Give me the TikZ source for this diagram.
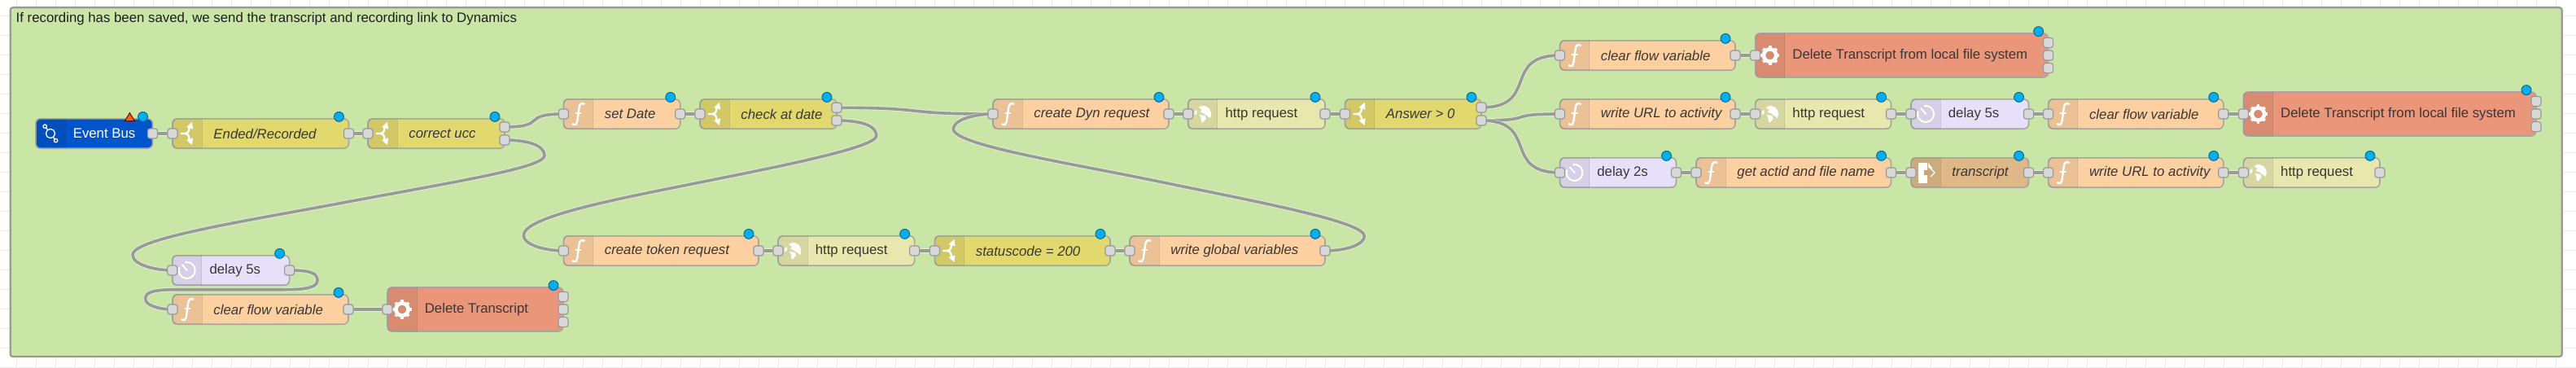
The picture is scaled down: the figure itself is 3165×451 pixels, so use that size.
\documentclass[tikz,border=0pt]{standalone}
\usepackage{fontspec}
\setmainfont{Liberation Sans}
\usetikzlibrary{calc}
\pgfdeclarelayer{wires}
\pgfsetlayers{wires,main}
\definecolor{groupgreen}{HTML}{C9E6A6}
\definecolor{fncol}{HTML}{FDD0A2}
\definecolor{swcol}{HTML}{E2D96E}
\definecolor{dlcol}{HTML}{E6E0F8}
\definecolor{htcol}{HTML}{E7E7AE}
\definecolor{excol}{HTML}{E9967A}
\definecolor{ficol}{HTML}{DEB887}
\definecolor{evcol}{HTML}{0055CC}
\definecolor{dotblue}{HTML}{00AEEF}
\tikzstyle{gridline}=[draw=black!7,line width=1pt]
\tikzstyle{groupbox}=[draw=black!40,fill=groupgreen,line width=2.2pt,rounded corners=3pt,inner sep=0pt]
\tikzstyle{nodebox}=[draw=black!35,line width=1.6pt,rounded corners=6pt,inner sep=0pt]
\tikzstyle{nodelabel}=[anchor=west,inner sep=0pt,text=black!78,font=\fontsize{16.8}{20}\selectfont]
\tikzstyle{port}=[draw=black!40,fill=black!15,line width=1.2pt,rounded corners=2.8pt,minimum size=12pt,inner sep=0pt]
\tikzstyle{marker}=[circle,draw=black!45!dotblue,fill=dotblue,line width=.8pt,minimum size=12pt,inner sep=0pt]
\tikzstyle{wire}=[draw=black!40,line width=3.6pt,preaction={draw=white,opacity=.45,line width=5.4pt}]
\tikzstyle{iconline}=[draw=white,line width=2.4pt,fill=none]
\tikzset{
  pics/fnicon/.style={code={
    \draw[iconline] (8,-12) .. controls (4,-14.5) and (1.5,-12) .. (1,-7) -- (-1,8) .. controls (-1.5,13) and (-4,14.5) .. (-7.5,12);
    \draw[iconline,line width=1.8pt] (-3.5,-1) -- (4,-1);
  }},
  pics/swicon/.style={code={
    \draw[iconline] (-8,0) -- (-3,0) .. controls (1,0) and (2.5,-3) .. (2.5,-8);
    \draw[iconline] (-3,0) .. controls (1,0) and (2.5,3) .. (2.5,8);
    \fill[white] (-1,-8) -- (6,-14) -- (7,-5.5) -- cycle;
    \fill[white] (-1,8) -- (6,14) -- (7,5.5) -- cycle;
  }},
  pics/dlicon/.style={code={
    \draw[iconline,line width=2pt] (-0.9,-10) arc[start angle=265,end angle=560,radius=10];
    \draw[iconline,line width=2pt] (0.5,0.5) -- (-6,-7);
    \fill[white] (-0.9,-10) circle (1.6);
  }},
  pics/hticon/.style={code={
    \fill[white] (-5,-8) .. controls (-1,-11) and (5,-11) .. (9,-5) .. controls (11,-1) and (10.5,3) .. (9,5) -- (5,2) -- (1,-1) -- (-3,-2) -- (-1,-5) -- cycle;
    \fill[white] (-4,1) -- (3,2) -- (4,6) -- (0,10.5) -- (-2,9) -- (-2,5) -- cycle;
    \fill[white] (-10,-3) -- (-7,-5) -- (-7,0) -- (-10,1) -- cycle;
  }},
  pics/exicon/.style={code={
    \draw[iconline,line width=4.6pt] (0,0) circle (7.6);
    \foreach \a in {0,45,...,315}
      \draw[iconline,line width=3.8pt] (\a:7.5) -- (\a:11.6);
  }},
  pics/fiicon/.style={code={
    \fill[white] (-9.3,-12) -- (2,-12) -- (2,13) -- (-9.3,13) -- cycle;
    \fill[white] (3.2,-12) -- (8.5,-5) -- (3.2,-5) -- cycle;
    \fill[ficol!90!black] (-2,-3) -- (3,-3) -- (3,-6.5) -- (9,0) -- (3,6.5) -- (3,3) -- (-2,3) -- cycle;
    \draw[iconline,line width=1.2pt] (6,-5) -- (11,0) -- (6,5);
  }},
  pics/evicon/.style={code={
    \draw[iconline,line width=1.3pt] (0,0) circle (5.6);
    \draw[iconline,line width=1.3pt] (-6.8,-8.8) circle (2.2);
    \draw[iconline,line width=1.3pt] (6.6,8.6) circle (2.2);
    \draw[iconline,line width=1.3pt] (-5.4,-7) -- (-3.4,-4.4);
    \draw[iconline,line width=1.3pt] (5.2,6.8) -- (3.4,4.4);
  }}
}
% box, icon band, text and blue marker of one flow node
\newcommand{\flownode}[8]{
  \node[nodebox,fill=#6,minimum width={(#3-#2)*1pt},minimum height={2*#5*1pt}] (#1) at ({(#2+#3)/2},#4) {};
  \fill[black,fill opacity=.07] (#2+36,#4-#5) -- (#2+6,#4-#5) .. controls (#2,#4-#5) .. (#2,#4-#5+6) -- (#2,#4+#5-6) .. controls (#2,#4+#5) .. (#2+6,#4+#5) -- (#2+36,#4+#5) -- cycle;
  \draw[black,opacity=.1,line width=1pt] (#2+36,#4-#5) -- (#2+36,#4+#5);
  \node[nodelabel] (#1-t) at (#2+45.6,#4) {#7 #8};
  \node[marker] (#1-m) at (#3-12,#4-#5-2.4) {};
}
\begin{document}
\begin{tikzpicture}[x=1pt,y=-1pt]
    \useasboundingbox (0,0) rectangle (3165,451);

    \begin{pgfonlayer}{wires}
    % Canvas grid and the group
    \foreach \k in {0,...,130}
        \draw[gridline] (20.4+24*\k,0) -- (20.4+24*\k,451);
    \foreach \k in {0,...,18}
        \draw[gridline] (0,19.3+24*\k) -- (3165,19.3+24*\k);
    \node[groupbox,minimum width=3135pt,minimum height=428.7pt] (group) at (1580.2,223.65) {};
    \end{pgfonlayer}
    \node[nodelabel,text=black!88] (grouptitle) at (19.5,22.7) {If recording has been saved, we send the transcript and recording link to Dynamics};

    % Function nodes
    \foreach \name/\xa/\xb/\yy/\txt in {setdate/692.4/835.7/140/{set Date},
        dynreq/1220/1436/140/{create Dyn request},
        tokenreq/692.4/932/308/{create token request},
        globals/1388/1628/308/{write global variables},
        cleara/212/428/380/{clear flow variable},
        clearb/1916.5/2132/68/{clear flow variable},
        writea/1916.5/2132/140/{write URL to activity},
        clearc/2516.6/2731.8/140/{clear flow variable},
        actid/2084/2323.5/212/{get actid and file name},
        writeb/2516.6/2731.8/212/{write URL to activity}}{
        \flownode{\name}{\xa}{\xb}{\yy}{18.2}{fncol}{\itshape}{\txt}
        \pic at (\xa+18,\yy) {fnicon};
        \node[port] (\name-i) at (\xa,\yy) {};
        \node[port] (\name-o) at (\xb,\yy) {};
    }

    % Switch nodes
    \foreach \name/\xa/\xb/\yy/\txt in {ended/212/428.5/164/{Ended/Recorded},
        ucc/452/620/164/{correct ucc},
        atdate/860/1028/140/{check at date},
        status/1148.4/1364/308/{statuscode = 200},
        answer/1652.5/1820/140/{Answer > 0}}{
        \flownode{\name}{\xa}{\xb}{\yy}{18.2}{swcol}{\itshape}{\txt}
        \pic at (\xa+18,\yy) {swicon};
        \node[port] (\name-i) at (\xa,\yy) {};
    }
    \foreach \name/\xx/\yy in {ended-o/428.5/164, status-o/1364/308,
        ucc-a/620/156, ucc-b/620/172, atdate-a/1028/132.3, atdate-b/1028/148,
        answer-a/1820/132, answer-b/1820/148}
        \node[port] (\name) at (\xx,\yy) {};

    % Delay nodes
    \foreach \name/\xa/\xb/\yy/\txt in {delaya/211.7/355.6/332/{delay 5s},
        delayb/2348/2492.5/140/{delay 5s},
        delayc/1916.5/2059.5/212/{delay 2s}}{
        \flownode{\name}{\xa}{\xb}{\yy}{18.2}{dlcol}{}{\txt}
        \pic at (\xa+18,\yy) {dlicon};
        \node[port] (\name-i) at (\xa,\yy) {};
        \node[port] (\name-o) at (\xb,\yy) {};
    }

    % Http request nodes
    \foreach \name/\xa/\xb/\yy in {httpa/956/1123.6/308, httpb/1459.7/1628/140,
        httpc/2156.6/2323.5/140, httpd/2756.4/2924/212}{
        \flownode{\name}{\xa}{\xb}{\yy}{18.2}{htcol}{}{http request}
        \pic at (\xa+18,\yy) {hticon};
        \node[port] (\name-i) at (\xa,\yy) {};
        \node[port] (\name-o) at (\xb,\yy) {};
    }

    % Exec nodes, three outputs each
    \foreach \name/\xa/\xb/\yy/\txt in {execa/476/692/380/{Delete Transcript},
        execb/2156.6/2516.6/68/{Delete Transcript from local file system},
        execc/2756.4/3116/140/{Delete Transcript from local file system}}{
        \flownode{\name}{\xa}{\xb}{\yy}{27}{excol}{}{\txt}
        \pic at (\xa+18,\yy) {exicon};
        \node[port] (\name-i) at (\xa,\yy) {};
        \node[port] (\name-a) at (\xb,\yy-15.6) {};
        \node[port] (\name-b) at (\xb,\yy) {};
        \node[port] (\name-c) at (\xb,\yy+15.6) {};
    }

    % File node and the event bus
    \flownode{transcript}{2348}{2492.5}{212}{18.2}{ficol}{\itshape}{transcript}
    \pic at (2366,212) {fiicon};
    \node[port] (transcript-i) at (2348,212) {};
    \node[port] (transcript-o) at (2492.5,212) {};

    \flownode{eventbus}{44}{187.5}{164}{18.2}{evcol}{\color{white}}{Event Bus}
    \pic at (62,164) {evicon};
    \node[port] (eventbus-o) at (187.5,164) {};
    \draw[draw=black!60!red,fill=orange!80!red,line width=1pt] (159.4,138.7) -- (165.5,148.7) -- (153.3,148.7) -- cycle;

    % Connect the nodes
    \begin{pgfonlayer}{wires}
    \foreach \source/\dest in {eventbus-o/ended-i, ended-o/ucc-i, setdate-o/atdate-i,
        cleara-o/execa-i, tokenreq-o/httpa-i, httpa-o/status-i, status-o/globals-i,
        dynreq-o/httpb-i, httpb-o/answer-i, clearb-o/execb-i, writea-o/httpc-i,
        httpc-o/delayb-i, delayb-o/clearc-i, clearc-o/execc-i, delayc-o/actid-i,
        actid-o/transcript-i, transcript-o/writeb-i, writeb-o/httpd-i}
        \path[wire] (\source) -- (\dest);

    \foreach \source/\dest/\pull in {ucc-a/setdate-i/54, atdate-a/dynreq-i/120,
        answer-a/clearb-i/72, answer-b/writea-i/72, answer-b/delayc-i/72}
        \path[wire] (\source.center) .. controls +(\pull,0) and +(-\pull,0) .. (\dest.center);

    % The wires that run back to the left
    \path[wire] (ucc-b.center) .. controls (650,172) and (669,179) .. (669,191) .. controls (669,206) and (560,223) .. (416,250) .. controls (300,271.8) and (163,293) .. (163,313) .. controls (163,325) and (190,332) .. (delaya-i.center);
    \path[wire] (delaya-o.center) .. controls (380,332) and (390,335) .. (390,344) .. controls (390,352) and (380,355.7) .. (350,355.7) -- (220,355.7) .. controls (190,355.7) and (178.6,358) .. (178.6,367) .. controls (178.6,375) and (195,380) .. (cleara-i.center);
    \path[wire] (atdate-b.center) .. controls (1060,148) and (1076.8,155) .. (1076.8,166.7) .. controls (1076.8,181) and (960,204) .. (860,224) .. controls (760,244) and (643.3,266) .. (643.3,289) .. controls (643.3,300) and (668,308) .. (tokenreq-i.center);
    \path[wire] (globals-o.center) .. controls (1655,308) and (1676.4,300) .. (1676.4,290) .. controls (1676.4,272) and (1540,247) .. (1424,223) .. controls (1310,199.5) and (1171.3,178) .. (1171.3,158.3) .. controls (1171.3,148) and (1195,140) .. (dynreq-i.center);
    \end{pgfonlayer}
\end{tikzpicture}
\end{document}
